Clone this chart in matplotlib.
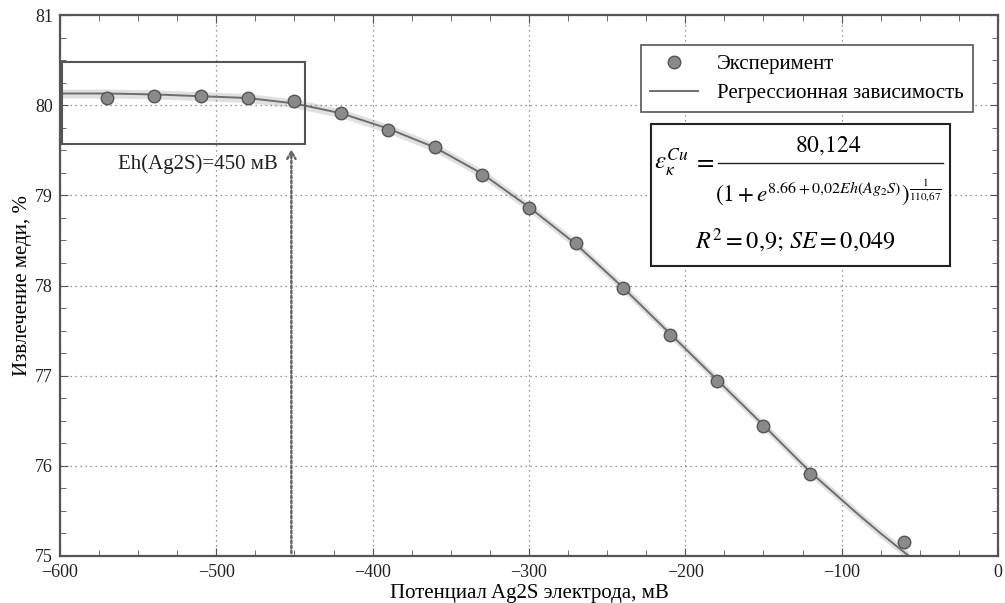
import numpy as np
import matplotlib
matplotlib.use("Agg")
import matplotlib.pyplot as plt
from matplotlib.patches import Rectangle
from matplotlib.lines import Line2D

plt.rcParams["font.family"] = ["Liberation Serif", "DejaVu Serif"]
plt.rcParams["mathtext.fontset"] = "stix"

# experimental points
eh_exp = [-570, -540, -510, -480, -450, -420, -390, -360, -330, -300,
          -270, -240, -210, -180, -150, -120, -60]
cu_exp = [80.08, 80.10, 80.10, 80.08, 80.05, 79.91, 79.73, 79.54, 79.23,
          78.86, 78.47, 77.97, 77.45, 76.94, 76.44, 75.91, 75.16]

# regression curve
eh_fit = [-600, -570, -540, -510, -480, -450, -420, -390, -360, -330, -300,
          -270, -240, -210, -180, -150, -135, -120, -105, -90, -75, -57]
cu_fit = [80.13, 80.13, 80.12, 80.10, 80.08, 80.02, 79.91, 79.74, 79.53,
          79.24, 78.87, 78.46, 77.98, 77.47, 76.96, 76.45, 76.19, 75.93,
          75.70, 75.47, 75.25, 75.0]
band = 0.05

grey = "#8a8a8a"
edge = "#555555"
W, H = 1005, 603


def px(x, y):
    # figure pixel (from top-left) -> figure fraction
    return x / W, 1 - y / H


fig = plt.figure(figsize=(10.05, 6.03), dpi=100)
ax = fig.add_axes([0.0597, 0.078, 0.9333, 0.897])

ax.fill_between(eh_fit, np.array(cu_fit) - band, np.array(cu_fit) + band,
                color="#d4d4d4", alpha=0.7, lw=0, zorder=1)
ax.plot(eh_fit, cu_fit, color="#6e6e6e", lw=1.4, zorder=2,
        label="Регрессионная зависимость")
ax.plot(eh_exp, cu_exp, "o", ms=9, mfc=grey, mec=edge, mew=1.0, zorder=3,
        label="Эксперимент")

ax.set_xlim(-600, 0)
ax.set_ylim(75, 81)
ax.set_xticks(np.arange(-600, 1, 100))
ax.set_xticklabels(["\u2212600", "\u2212500", "\u2212400", "\u2212300",
                    "\u2212200", "\u2212100", "0"])
ax.set_yticks(np.arange(75, 82, 1))
ax.set_xticks(np.arange(-600, 1, 25), minor=True)
ax.set_yticks(np.arange(75, 81.01, 0.25), minor=True)
ax.tick_params(which="both", direction="in", top=True, right=True,
               colors="#555555", labelcolor="#222222", labelsize=13)
ax.tick_params(which="major", length=6)
ax.tick_params(which="minor", length=4)
ax.tick_params(axis="x", pad=6)
ax.tick_params(axis="y", pad=5)
ax.grid(True, which="major", linestyle=(0, (1, 3)), color="#777777", lw=0.9)
for s in ax.spines.values():
    s.set_color("#555555")
    s.set_linewidth(1.6)

ax.set_xlabel("Потенциал Ag2S электрода, мВ", fontsize=15, labelpad=2)
ax.set_ylabel("Извлечение меди, %", fontsize=15, labelpad=2)

# highlighted region and marker
ax.add_patch(Rectangle((-599, 79.57), 155.5, 0.91, fill=False,
                       ec="#555555", lw=1.5, zorder=4))
ax.text(-512, 79.35, "Eh(Ag2S)=450 мВ", fontsize=15, ha="center",
        va="center", color="#222222")
ax.annotate("", xy=(-452, 79.54), xytext=(-452, 75.0),
            arrowprops=dict(arrowstyle="->,head_length=0.5,head_width=0.3",
                            color="#666666", lw=1.8,
                            linestyle=(0, (1, 1))))

handles, labels = ax.get_legend_handles_labels()
leg = ax.legend(handles[::-1], labels[::-1], loc="upper right",
                bbox_to_anchor=px(973, 45), bbox_transform=fig.transFigure,
                borderaxespad=0, fontsize=15, frameon=True, fancybox=False,
                edgecolor="#555555", framealpha=1, handlelength=2.3,
                handletextpad=0.9, borderpad=0.45, labelspacing=0.45)
leg.get_frame().set_linewidth(1.2)

# regression formula box
fig.patches.append(Rectangle(px(651, 266), 299 / W, 142 / H,
                             transform=fig.transFigure, fill=True,
                             fc="white", ec="#222222", lw=1.5, zorder=5))
fig.text(*px(654, 163), r"$\varepsilon_{\kappa}^{Cu}$", fontsize=18,
         ha="left", va="center", zorder=6)
fig.text(*px(704, 162), r"$=$", fontsize=18, ha="center", va="center",
         zorder=6)
fig.text(*px(828, 146), r"$80{,}124$", fontsize=17, ha="center",
         va="center", zorder=6)
fig.lines.append(Line2D([718 / W, 943 / W], [1 - 163 / H, 1 - 163 / H],
                        transform=fig.transFigure, color="#222222", lw=1.0,
                        zorder=6))
fig.text(*px(828, 192),
         r"$\left(1+e^{8.66+0{,}02Eh(Ag_2S)}\right)^{\frac{1}{110{,}67}}$",
         fontsize=16.5, ha="center", va="center", zorder=6)
fig.text(*px(795, 241), r"$R^2=0{,}9;\,SE=0{,}049$", fontsize=17.5,
         ha="center", va="center", zorder=6)

fig.savefig("out.png", dpi=100)
